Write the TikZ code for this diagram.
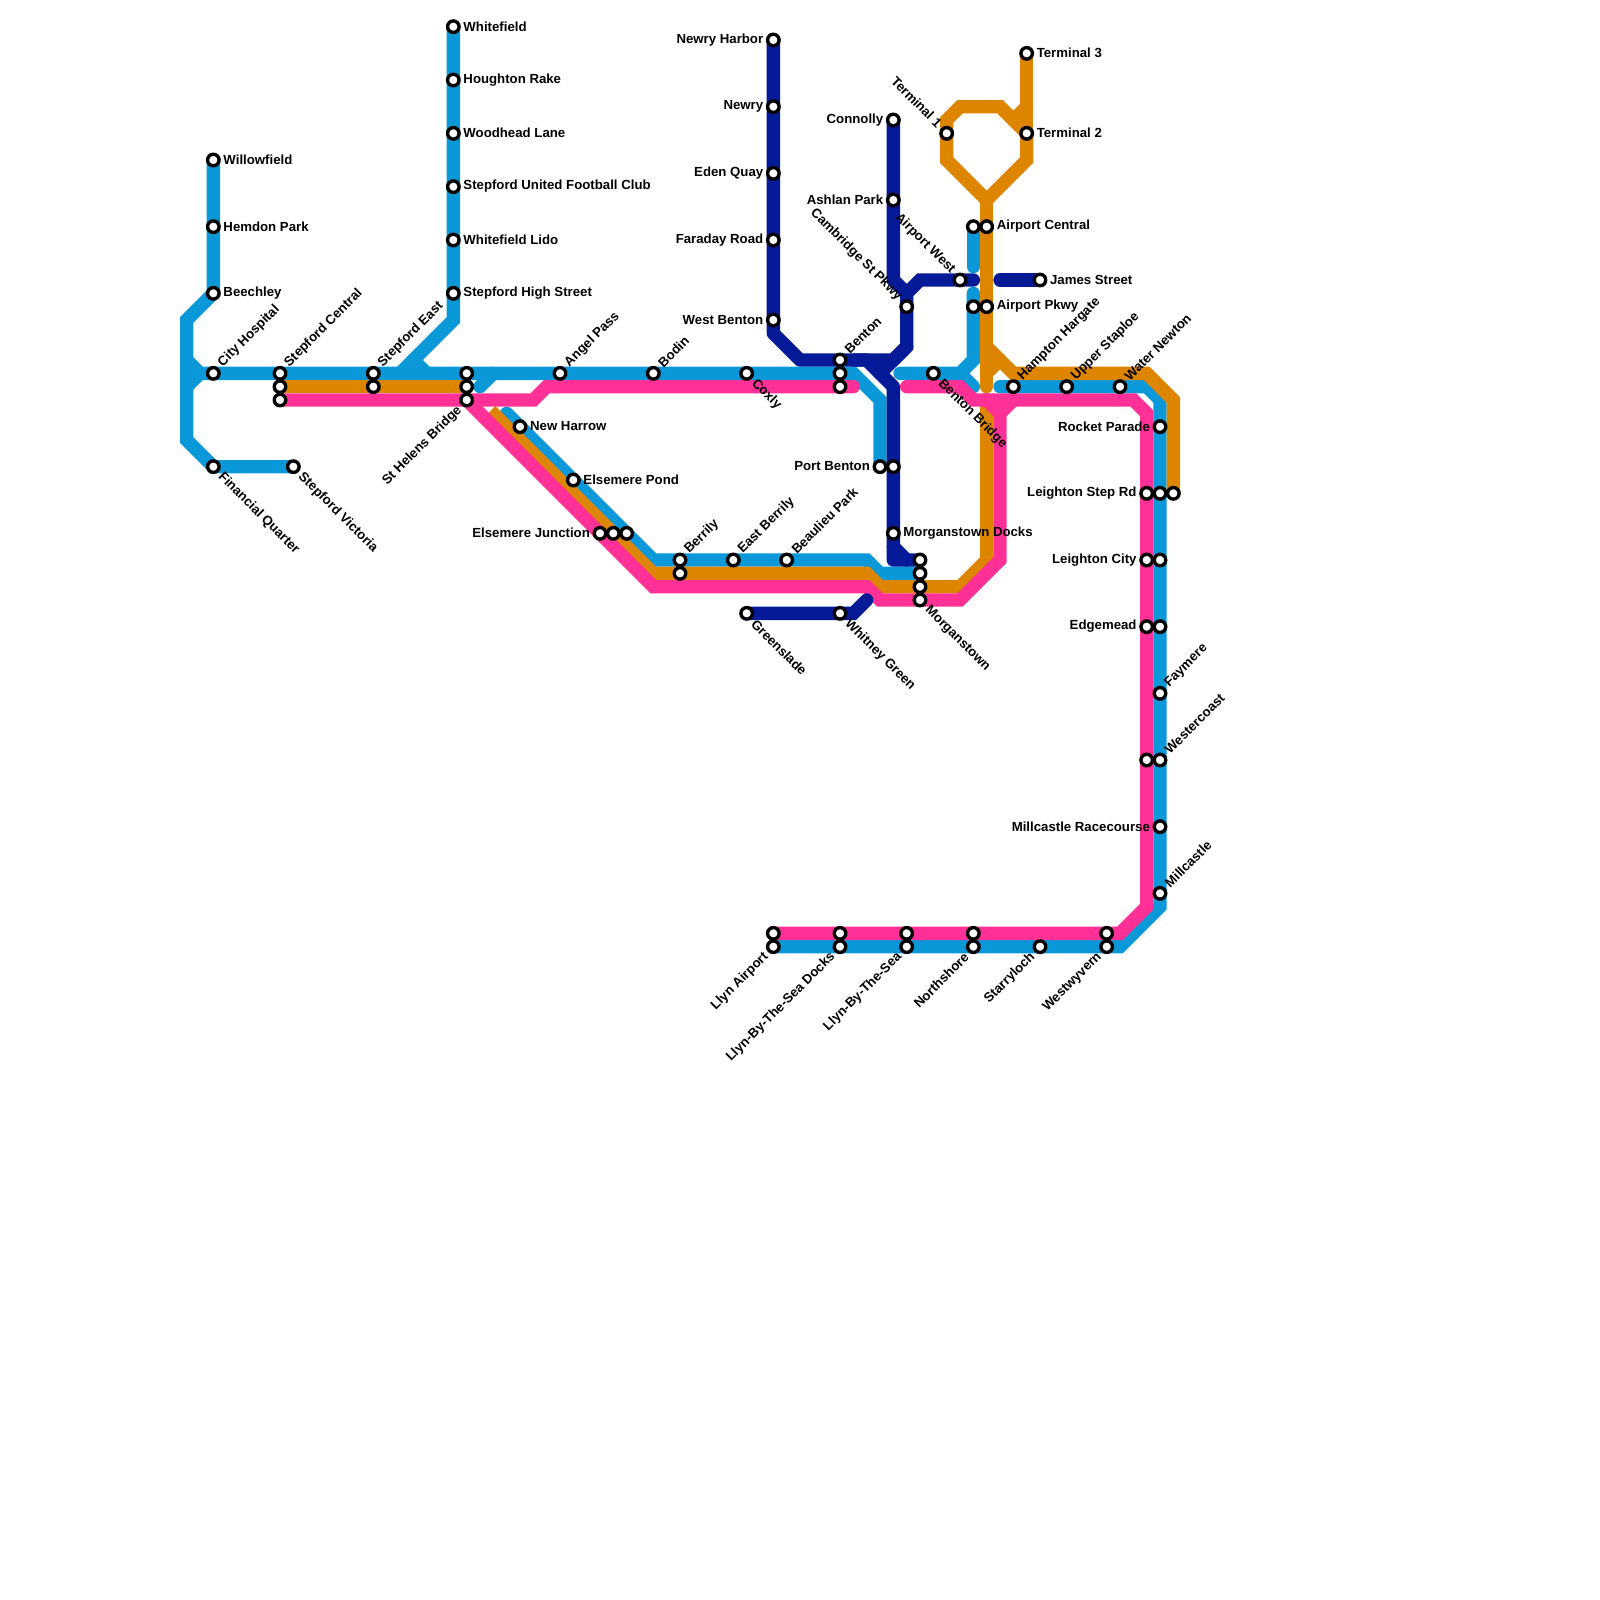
\documentclass[tikz,border=0pt]{standalone}
\usepackage{fontspec}
\setmainfont{Liberation Sans}
\definecolor{mblue}{RGB}{10,152,216}
\definecolor{morange}{RGB}{222,133,0}
\definecolor{mpink}{RGB}{255,48,150}
\definecolor{mdark}{RGB}{4,26,150}
\pgfdeclarelayer{lines}
\pgfsetlayers{lines,main}
\tikzset{
  x=0.33333cm,y=-0.33333cm,
  metro/.style={line width=0.33333cm,line cap=round,line join=miter,miter limit=10},
  lb/.style={metro,draw=mblue},
  lo/.style={metro,draw=morange},
  lp/.style={metro,draw=mpink},
  ld/.style={metro,draw=mdark},
  stn/.style={circle,draw=black,fill=white,line width=2.4pt,minimum size=8.2pt,inner sep=0pt,outer sep=0pt},
  lbl/.style={font=\fontsize{9.4}{11}\selectfont\bfseries,text=black,inner sep=0pt,outer sep=0pt},
}
\begin{document}
\begin{tikzpicture}
\useasboundingbox (0,0) rectangle (120,120);
\foreach \n/\x/\y in {wfd/34/2,hou/34/6,woo/34/10,sun/34/14,lid/34/18,shs/34/22,
  wil/16/12,hem/16/17,bee/16/22,cit/16/28,fin/16/35,vic/22/35,
  sca/21/28,scb/21/29,scc/21/30,sea/28/28,seb/28/29,sha/35/28,shb/35/29,shc/35/30,
  ang/42/28,bod/49/28,cox/56/28,bea/63/27,beb/63/28,bec/63/29,
  nha/39/32,epo/43/36,eja/45/40,ejb/46/40,ejc/47/40,bra/51/42,brb/51/43,eby/55/42,bpk/59/42,
  nhb/58/3,nry/58/8,eqy/58/13,far/58/18,wbe/58/24,
  con/67/9,ash/67/15,cam/68/23,awe/72/21,jam/78/21,
  pba/66/35,pbb/67/35,mdk/67/40,msa/69/42,msb/69/43,msc/69/44,msd/69/45,gre/56/46,whi/63/46,bbr/70/28,
  tea/71/10,teb/77/10,tec/77/4,aca/73/17,acb/74/17,apa/73/23,apb/74/23,
  ham/76/29,ups/80/29,wat/84/29,roc/87/32,lsa/86/37,lsb/87/37,lsc/88/37,lca/86/42,lcb/87/42,
  eda/86/47,edb/87/47,fay/87/52,wea/86/57,web/87/57,mrc/87/62,mil/87/67,
  lla/58/70,llb/58/71,lda/63/70,ldb/63/71,lta/68/70,ltb/68/71,nsa/73/70,nsb/73/71,sta/78/71,wwa/83/70,wwb/83/71}
  {\node[stn] (\n) at (\x,\y) {};}
% labels to the right
\foreach \s/\t in {wfd/Whitefield,hou/Houghton Rake,woo/Woodhead Lane,sun/Stepford United Football Club,lid/Whitefield Lido,shs/Stepford High Street,
  wil/Willowfield,hem/Hemdon Park,bee/Beechley,nha/New Harrow,epo/Elsemere Pond,mdk/Morganstown Docks,tec/Terminal 3,teb/Terminal 2,acb/Airport Central,apb/Airport Pkwy,jam/James Street}
  {\node[lbl,anchor=west] (t\s) at ([xshift=7.2pt,yshift=0.2pt]\s.center) {\t};}
% labels to the left
\foreach \s/\t in {nhb/Newry Harbor,nry/Newry,eqy/Eden Quay,far/Faraday Road,wbe/West Benton,con/Connolly,ash/Ashlan Park,pba/Port Benton,eja/Elsemere Junction,roc/Rocket Parade,lsa/Leighton Step Rd,lca/Leighton City,eda/Edgemead,mrc/Millcastle Racecourse}
  {\node[lbl,anchor=east] (t\s) at ([xshift=-7.2pt,yshift=0.2pt]\s.center) {\t};}
% up-right
\foreach \s/\t in {cit/City Hospital,sca/Stepford Central,sea/Stepford East,ang/Angel Pass,bod/Bodin,bea/Benton,bra/Berrily,eby/East Berrily,bpk/Beaulieu Park,ham/Hampton Hargate,ups/Upper Staploe,wat/Water Newton,fay/Faymere,web/Westercoast,mil/Millcastle}
  {\node[lbl,anchor=west,rotate=45] (t\s) at ([xshift=5pt,yshift=6pt]\s.center) {\t};}
% down-right
\foreach \s/\t in {fin/Financial Quarter,vic/Stepford Victoria,cox/Coxly,bbr/Benton Bridge,gre/Greenslade,whi/Whitney Green,msd/Morganstown}
  {\node[lbl,anchor=west,rotate=-45] (t\s) at ([xshift=5pt,yshift=-6pt]\s.center) {\t};}
% down-left
\foreach \s/\t in {shc/St Helens Bridge,llb/Llyn Airport,ldb/Llyn-By-The-Sea Docks,ltb/Llyn-By-The-Sea,nsb/Northshore,sta/Starryloch,wwb/Westwyvern}
  {\node[lbl,anchor=east,rotate=45] (t\s) at ([xshift=-5pt,yshift=-6pt]\s.center) {\t};}
% up-left
\foreach \s/\t in {tea/Terminal 1,awe/Airport West,cam/Cambridge St Pkwy}
  {\node[lbl,anchor=east,rotate=-45] (t\s) at ([xshift=-5pt,yshift=6pt]\s.center) {\t};}
\begin{pgfonlayer}{lines}
% blue
\draw[lb] (wil.center)--(hem.center)--(bee.center)--(14,24)--(14,33)--(fin.center)--(vic.center);
\draw[lb] (14,27)--(15,28)--(14,29);
\draw[lb] (15,28)--(cit.center)--(sca.center)--(sea.center)--(sha.center)--(ang.center)--(bod.center)--(cox.center)--(beb.center)--(64,28)--(66,30)--(pba.center);
\draw[lb] (37,28)--(36,29);
\draw[lb] (wfd.center)--(shs.center)--(34,24)--(30,28);
\draw[lb] (31,27)--(32,28);
\draw[lb] (38,31)--(nha.center)--(epo.center)--(ejc.center)--(49,42)--(bra.center)--(eby.center)--(bpk.center)--(65,42)--(66,43)--(msb.center);
\draw[lb] (67.5,28)--(bbr.center)--(72,28)--(73,27)--(apa.center)--(73,22);
\draw[lb] (72,28)--(73,29);
\draw[lb] (aca.center)--(73,20);
\draw[lb] (75,29)--(ham.center)--(ups.center)--(wat.center)--(86,29)--(87,30)--(roc.center)--(mil.center)--(87,68)--(84,71)--(wwb.center)--(sta.center)--(llb.center);
% orange
\draw[lo] (scb.center)--(seb.center)--(shb.center);
\draw[lo,line cap=butt] (36.8,30.8)--(ejb.center)--(49,43)--(brb.center)--(65,43)--(66,44)--(msc.center)--(72,44)--(74,42)--(74,30);
\draw[lo] (74,29)--(74,15);
\draw[lo] (74,15)--(71,12)--(tea.center)--(71,9)--(72,8)--(75,8)--(teb.center)--(77,12)--cycle;
\draw[lo] (tec.center)--(teb.center);
\draw[lo] (77,8)--(76,9);
\draw[lo] (74,26)--(76,28)--(86,28)--(88,30)--(lsc.center);
\draw[lo] (75,27)--(74,28);
% pink
\draw[lp] (scc.center)--(shc.center)--(40,30)--(41,29)--(bec.center)--(64,29);
\draw[lp] (shc.center)--(eja.center)--(49,44)--(65,44)--(66,45)--(msd.center)--(72,45)--(75,42)--(75,31)--(76,30);
\draw[lp] (74,30)--(75,31);
\draw[lp] (68,29)--(72,29)--(73,30)--(85,30)--(86,31)--(lsa.center)--(wea.center)--(86,68)--(84,70)--(wwa.center)--(lla.center);
% dark
\draw[ld,line join=round] (nhb.center)--(wbe.center)--(58,25)--(60,27)--(65,27)--(67,29)--(pbb.center)--(mdk.center)--(67,42)--(msa.center);
\draw[ld] (67,41)--(68,42);
\draw[ld] (64,27)--(67,27)--(68,26)--(cam.center)--(68,22)--(69,21)--(awe.center)--(73,21);
\draw[ld] (68,26)--(66,28);
\draw[ld] (con.center)--(ash.center)--(67,21)--(68,22);
\draw[ld] (gre.center)--(whi.center)--(64,46)--(65,45);
\draw[ld] (75,21)--(jam.center);
\end{pgfonlayer}
\end{tikzpicture}
\end{document}
